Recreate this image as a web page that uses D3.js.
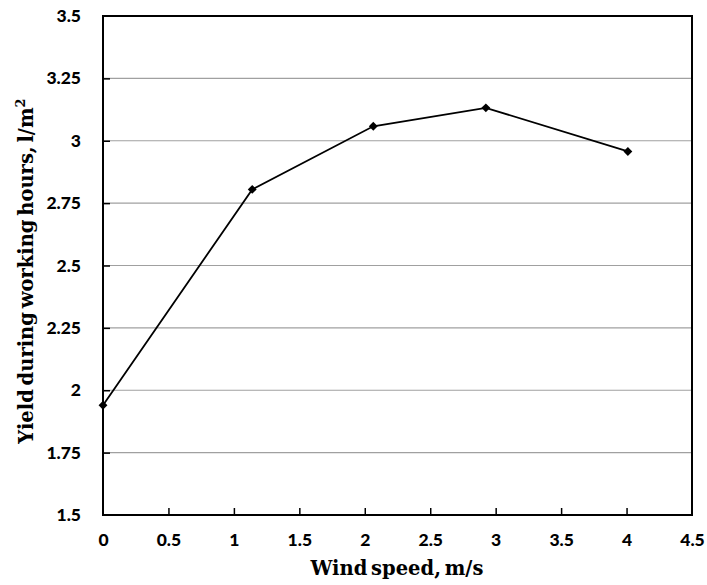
<!DOCTYPE html>
<html>
<head>
<meta charset="utf-8">
<script src="https://cdn.jsdelivr.net/npm/d3@7"></script>
<style>
  body { margin: 0; background: #fff; }
</style>
</head>
<body>
<svg id="svg"></svg>
<script>
const svgWidth = 707;
const svgHeight = 585;

// data
const windSpeed = [0, 1.14, 2.065, 2.925, 4.01];
const yieldValues = [1.94, 2.805, 3.058, 3.132, 2.957];
const xTicks = [0, 0.5, 1, 1.5, 2, 2.5, 3, 3.5, 4, 4.5];
const yTicks = [1.5, 1.75, 2, 2.25, 2.5, 2.75, 3, 3.25, 3.5];

const margin = { top: 16, right: 15, bottom: 70, left: 103 };
const chartWidth = svgWidth - margin.left - margin.right;
const chartHeight = svgHeight - margin.top - margin.bottom;

const svg = d3.select("#svg").attr("width", svgWidth).attr("height", svgHeight);

const chart = svg.append("g")
  .attr("transform", "translate(" + margin.left + "," + margin.top + ")");

const xScale = d3.scaleLinear().domain([0, 4.5]).range([0, chartWidth]);
const yScale = d3.scaleLinear().domain([1.5, 3.5]).range([chartHeight, 0]);

const tickFont = "Lato, 'Open Sans', sans-serif";
const titleFont = "'DejaVu Serif', 'Liberation Serif', serif";

// gridlines
chart.append("g")
  .selectAll("line")
  .data(yTicks.slice(1, -1))
  .join("line")
  .attr("x1", 0)
  .attr("x2", chartWidth)
  .attr("y1", d => yScale(d))
  .attr("y2", d => yScale(d))
  .attr("stroke", "#a0a0a0")
  .attr("stroke-width", 1.2);

// axes with inward ticks
const xAxis = chart.append("g")
  .attr("transform", "translate(0," + chartHeight + ")")
  .call(d3.axisBottom(xScale).tickValues(xTicks).tickSizeInner(-7).tickSizeOuter(0)
    .tickPadding(19).tickFormat(d3.format("")));

const yAxis = chart.append("g")
  .call(d3.axisLeft(yScale).tickValues(yTicks).tickSizeInner(-7).tickSizeOuter(0)
    .tickPadding(22).tickFormat(d3.format("")));

[xAxis, yAxis].forEach(a => {
  a.select(".domain").remove();
  a.selectAll(".tick line").attr("stroke", "#000").attr("stroke-width", 1.5);
  a.selectAll(".tick text")
    .attr("fill", "#000")
    .style("font-family", tickFont)
    .style("font-weight", "900")
    .style("font-size", "17.5px");
});
xAxis.selectAll(".tick").filter(d => d === 0 || d === 4.5).select("line").remove();
yAxis.selectAll(".tick").filter(d => d === 1.5 || d === 3.5).select("line").remove();

// frame
chart.append("rect")
  .attr("x", 0)
  .attr("y", 0)
  .attr("width", chartWidth)
  .attr("height", chartHeight)
  .attr("fill", "none")
  .attr("stroke", "#000")
  .attr("stroke-width", 2);

// line
const line = d3.line()
  .x((d, i) => xScale(windSpeed[i]))
  .y(d => yScale(d));

chart.append("path")
  .datum(yieldValues)
  .attr("d", line)
  .attr("fill", "none")
  .attr("stroke", "#000")
  .attr("stroke-width", 1.8);

chart.append("g")
  .selectAll("path")
  .data(yieldValues)
  .join("path")
  .attr("transform", (d, i) => "translate(" + xScale(windSpeed[i]) + "," + yScale(d) + ")")
  .attr("d", d3.symbol().type(d3.symbolDiamond2).size(50))
  .attr("fill", "#000");

// axis titles
svg.append("text")
  .attr("x", 397)
  .attr("y", 575)
  .attr("text-anchor", "middle")
  .style("font-family", titleFont)
  .style("font-weight", "bold")
  .style("font-size", "19.5px")
  .style("word-spacing", "-3px")
  .text("Wind speed, m/s");

svg.append("text")
  .attr("transform", "translate(33,271) rotate(-90)")
  .attr("text-anchor", "middle")
  .style("font-family", titleFont)
  .style("font-weight", "bold")
  .style("font-size", "19.5px")
  .style("word-spacing", "-3px")
  .html("Yield during working hours, l/m<tspan dy='-8' font-size='13'>2</tspan>");
</script>
</body>
</html>
